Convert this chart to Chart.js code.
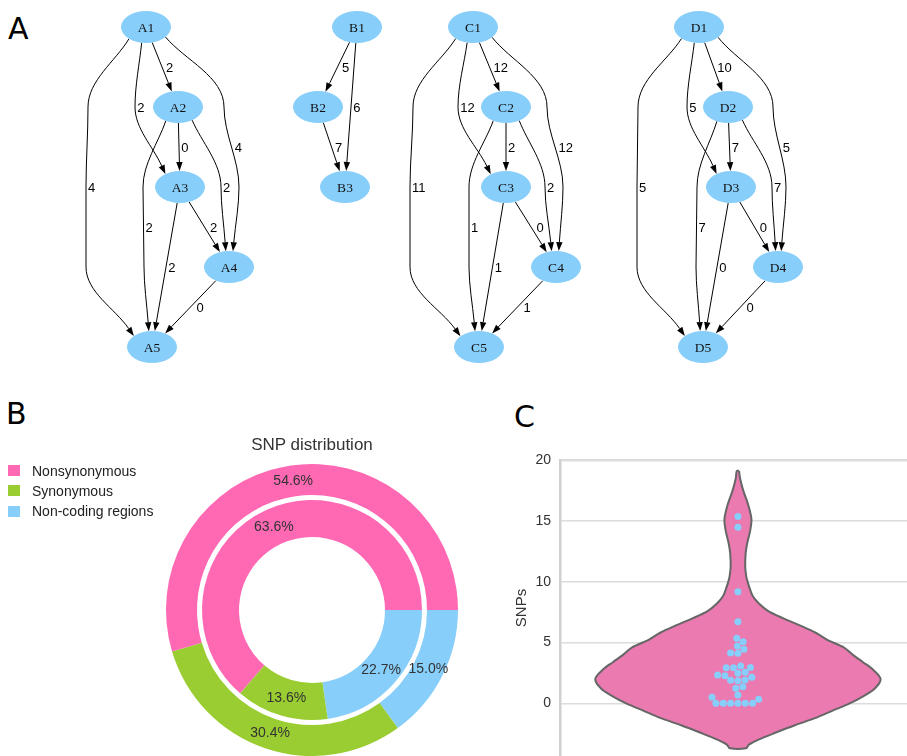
<!DOCTYPE html>
<html>
<head>
<meta charset="utf-8">
<script src="https://cdn.jsdelivr.net/npm/chart.js"></script>
<style>
  body { margin: 0; background: #fff; width: 907px; height: 756px; position: relative; overflow: hidden; font-family: 'Liberation Sans', Arial, sans-serif; }
  canvas { position: absolute; }
  .panel { position: absolute; font-family: 'DejaVu Sans', sans-serif; font-size: 30px; line-height: 30px; color: #000; }
  #snpTitle { position: absolute; left: 162px; width: 300px; top: 435.6px; text-align: center; font-size: 17px; line-height: 17px; color: #333; }
  .key { position: absolute; width: 12px; height: 11px; left: 8px; }
  .keyText { position: absolute; left: 32px; font-size: 14px; line-height: 14px; color: #222; white-space: nowrap; }
</style>
</head>
<body>
<div class="panel" style="left:8px; top:13.5px">A</div>
<div class="panel" style="left:6px; top:398.5px">B</div>
<div class="panel" style="left:514px; top:401.5px">C</div>

<canvas id="graphs" width="907" height="380" style="left:0; top:0"></canvas>
<canvas id="snpRings" width="480" height="366" style="left:0; top:390px"></canvas>
<div id="snpTitle">SNP distribution</div>
<div id="snpLegend"></div>
<canvas id="violin" width="427" height="366" style="left:480px; top:390px"></canvas>

<script>
// ---- panel A: SNP graphs ----
const nodeNames = ['A1', 'A2', 'A3', 'A4', 'A5', 'B1', 'B2', 'B3', 'C1', 'C2', 'C3', 'C4', 'C5', 'D1', 'D2', 'D3', 'D4', 'D5'];
const nodeX     = [146, 178, 180, 229, 152, 357, 318, 345, 473, 506, 506, 556, 479, 699, 728, 731, 778, 703];
const nodeRank  = [1, 2, 3, 4, 5, 1, 2, 3, 1, 2, 3, 4, 5, 1, 2, 3, 4, 5];

const edgeFrom = ['A1', 'A1', 'A1', 'A1', 'A2', 'A2', 'A2', 'A3', 'A3', 'A4',
                  'B1', 'B1', 'B2',
                  'C1', 'C1', 'C1', 'C1', 'C2', 'C2', 'C2', 'C3', 'C3', 'C4',
                  'D1', 'D1', 'D1', 'D1', 'D2', 'D2', 'D2', 'D3', 'D3', 'D4'];
const edgeTo   = ['A2', 'A3', 'A4', 'A5', 'A3', 'A4', 'A5', 'A4', 'A5', 'A5',
                  'B2', 'B3', 'B3',
                  'C2', 'C3', 'C4', 'C5', 'C3', 'C4', 'C5', 'C4', 'C5', 'C5',
                  'D2', 'D3', 'D4', 'D5', 'D3', 'D4', 'D5', 'D4', 'D5', 'D5'];
const edgeSNPs = [2, 2, 4, 4, 0, 2, 2, 2, 2, 0,
                  5, 6, 7,
                  12, 12, 12, 11, 2, 2, 1, 0, 1, 1,
                  10, 5, 5, 5, 7, 7, 7, 0, 0, 0];
// x of the edge at every rank it crosses ([] = straight edge)
const edgeBends = [[], [135], [224, 239], [88, 86, 86], [], [221], [143, 144], [], [], [],
                   [], [], [],
                   [], [458], [547, 563], [413, 410, 410], [], [545], [469, 469], [], [], [],
                   [], [687], [773, 786], [638, 637, 637], [], [772], [697, 696], [], [], []];

// ---- panel B: SNP distribution ----
const snpClasses = ['Nonsynonymous', 'Synonymous', 'Non-coding regions'];
const classColors = ['#ff69b4', '#9acd32', '#87cefa'];
const outerShare = [54.6, 30.4, 15.0];
const innerShare = [63.6, 13.6, 22.7];

// ---- panel C: SNPs per sample ----
const snpTicks = [0, 5, 10, 15, 20];
const violinSNPs    = [19.1, 18.5, 17.5, 16.4, 15.5, 15.0, 14.2, 13.1, 12.3, 11.2, 10.4, 9.9, 9.3, 8.8, 8.2, 7.6, 7.0, 6.4, 5.8, 5.2, 4.6, 4.0, 3.4, 2.8, 2.0, 1.2, 0.6, 0.0, -0.6, -1.2, -1.8, -2.4, -3.0, -3.4, -3.7];
const violinDensity = [0.008, 0.015, 0.037, 0.070, 0.090, 0.095, 0.086, 0.064, 0.054, 0.051, 0.059, 0.070, 0.087, 0.105, 0.147, 0.21, 0.315, 0.434, 0.545, 0.629, 0.741, 0.804, 0.874, 0.944, 1.0, 0.958, 0.881, 0.783, 0.664, 0.545, 0.399, 0.266, 0.140, 0.077, 0.056];
const sampleSNPs = [0, 0, 0, 0, 0, 0, 0.33, 0.49, 0.68, 1.23, 1.37, 1.86, 1.9, 1.92, 2.14, 2.27, 2.33, 2.47, 2.55,
                    2.93, 2.93, 2.95, 3.07, 4.11, 4.13, 4.44, 4.71, 5.07, 5.35, 6.71, 9.18, 14.47, 15.35];

const RX = 25, RY = 16, ARROW_LEN = 9, ARROW_HALF = 3.2;
const noOverlay = {legend: {display: false}, tooltip: {enabled: false}};

function nodeShape() {
  const c = document.createElement('canvas');
  c.width = RX * 2;
  c.height = RY * 2;
  const g = c.getContext('2d');
  g.fillStyle = '#87cefa';
  g.beginPath();
  g.ellipse(RX, RY, RX, RY, 0, 0, Math.PI * 2);
  g.fill();
  return c;
}

// point on the node ellipse in direction (dx, dy)
function rim(c, dx, dy) {
  const t = 1 / Math.hypot(dx / RX, dy / RY);
  return {x: c.x + dx * t, y: c.y + dy * t};
}

function unit(p, q) {
  const d = Math.hypot(q.x - p.x, q.y - p.y);
  return {x: (q.x - p.x) / d, y: (q.y - p.y) / d};
}

function bez(s, t) {
  const u = 1 - t;
  const a = u * u * u, b = 3 * u * u * t, c = 3 * u * t * t, d = t * t * t;
  return {x: a * s[0].x + b * s[1].x + c * s[2].x + d * s[3].x,
          y: a * s[0].y + b * s[1].y + c * s[2].y + d * s[3].y};
}

function edgeGeometry(k, xs, ys) {
  const a = nodeNames.indexOf(edgeFrom[k]);
  const b = nodeNames.indexOf(edgeTo[k]);
  const pa = {x: xs.getPixelForValue(nodeX[a]), y: ys.getPixelForValue(nodeRank[a])};
  const pb = {x: xs.getPixelForValue(nodeX[b]), y: ys.getPixelForValue(nodeRank[b])};
  const vias = edgeBends[k].map((bx, j) => ({x: xs.getPixelForValue(bx), y: ys.getPixelForValue(nodeRank[a] + j + 1)}));
  const s = vias.length ? 0.5 : 1;
  const first = vias[0] || pb;
  const last = vias[vias.length - 1] || pa;
  const start = rim(pa, first.x - pa.x, (first.y - pa.y) * s);
  const tip = rim(pb, last.x - pb.x, (last.y - pb.y) * s);
  const dir = unit(vias.length ? last : start, tip);
  const base = {x: tip.x - dir.x * ARROW_LEN, y: tip.y - dir.y * ARROW_LEN};
  const pts = [start, ...vias, base];
  const tans = pts.map((p, i) => i === 0 ? unit(pts[0], pts[1]) : (i === pts.length - 1 ? dir : {x: 0, y: 1}));
  const segs = [];
  for (let i = 0; i < pts.length - 1; i++) {
    const p = pts[i], q = pts[i + 1];
    const L = Math.hypot(q.x - p.x, q.y - p.y) / 3;
    segs.push([p,
      {x: p.x + tans[i].x * L, y: p.y + tans[i].y * L},
      {x: q.x - tans[i + 1].x * L, y: q.y - tans[i + 1].y * L},
      q]);
  }
  return {segs, tip, dir, base, mid: (pa.y + pb.y) / 2};
}

const graphPlugin = {
  id: 'graph',
  beforeDatasetsDraw(chart) {
    const {ctx} = chart;
    const xs = chart.scales.x, ys = chart.scales.y;
    ctx.save();
    ctx.strokeStyle = '#000';
    ctx.fillStyle = '#000';
    ctx.lineWidth = 1;
    ctx.font = '13px "Liberation Sans", Arial, sans-serif';
    ctx.textAlign = 'left';
    ctx.textBaseline = 'middle';
    edgeFrom.forEach((_, k) => {
      const e = edgeGeometry(k, xs, ys);
      ctx.beginPath();
      ctx.moveTo(e.segs[0][0].x, e.segs[0][0].y);
      e.segs.forEach(sg => ctx.bezierCurveTo(sg[1].x, sg[1].y, sg[2].x, sg[2].y, sg[3].x, sg[3].y));
      ctx.stroke();

      const px = -e.dir.y * ARROW_HALF, py = e.dir.x * ARROW_HALF;
      ctx.beginPath();
      ctx.moveTo(e.tip.x, e.tip.y);
      ctx.lineTo(e.base.x + px, e.base.y + py);
      ctx.lineTo(e.base.x - px, e.base.y - py);
      ctx.closePath();
      ctx.fill();

      // label sits just right of the edge around its mid height
      let lx = -Infinity, near = null;
      e.segs.forEach(sg => {
        for (let t = 0; t <= 1.0001; t += 0.04) {
          const p = bez(sg, t);
          if (Math.abs(p.y - e.mid) <= 6) lx = Math.max(lx, p.x);
          if (!near || Math.abs(p.y - e.mid) < Math.abs(near.y - e.mid)) near = p;
        }
      });
      if (lx === -Infinity) lx = near.x;
      ctx.fillText(String(edgeSNPs[k]), lx + 2, e.mid + 1);
    });
    ctx.restore();
  },
  afterDatasetsDraw(chart) {
    const {ctx} = chart;
    const xs = chart.scales.x, ys = chart.scales.y;
    ctx.save();
    ctx.fillStyle = '#111';
    ctx.font = '13.5px "Liberation Serif", "Times New Roman", serif';
    ctx.textAlign = 'center';
    ctx.textBaseline = 'middle';
    nodeNames.forEach((name, i) => {
      ctx.fillText(name, xs.getPixelForValue(nodeX[i]), ys.getPixelForValue(nodeRank[i]) + 1);
    });
    ctx.restore();
  }
};

new Chart(document.getElementById('graphs'), {
  type: 'scatter',
  data: {
    datasets: [{
      data: nodeX.map((x, i) => ({x, y: nodeRank[i]})),
      pointStyle: nodeShape(),
      pointRadius: RY,
      clip: false
    }]
  },
  options: {
    responsive: false,
    animation: false,
    events: [],
    layout: {padding: 0, autoPadding: false},
    scales: {
      x: {display: false, min: 0, max: 907},
      y: {display: false, min: 0.6625, max: 5.4125, reverse: true}
    },
    plugins: noOverlay
  },
  plugins: [graphPlugin]
});

// ---- panel B ----
const rev = arr => arr.slice().reverse();

const legendBox = document.getElementById('snpLegend');
snpClasses.forEach((name, i) => {
  const key = document.createElement('div');
  key.className = 'key';
  key.style.top = (465 + i * 20.3) + 'px';
  key.style.backgroundColor = classColors[i];
  const text = document.createElement('div');
  text.className = 'keyText';
  text.style.top = (463.6 + i * 20) + 'px';
  text.textContent = name;
  legendBox.append(key, text);
});

const ringLabels = {
  id: 'ringLabels',
  afterDatasetsDraw(chart) {
    const {ctx} = chart;
    ctx.save();
    ctx.font = '14px "Liberation Sans", Arial, sans-serif';
    ctx.fillStyle = '#333';
    ctx.textAlign = 'center';
    ctx.textBaseline = 'middle';
    [0, 2].forEach(di => {
      chart.getDatasetMeta(di).data.forEach((arc, i) => {
        const p = arc.tooltipPosition();
        ctx.fillText(chart.data.datasets[di].data[i].toFixed(1) + '%', p.x, p.y);
      });
    });
    ctx.restore();
  }
};

new Chart(document.getElementById('snpRings'), {
  type: 'doughnut',
  data: {
    labels: rev(snpClasses),
    datasets: [
      {data: rev(outerShare), backgroundColor: rev(classColors), weight: 31, borderWidth: 0, hoverOffset: 0},
      {data: [1], backgroundColor: 'rgba(255,255,255,0)', weight: 5, borderWidth: 0, hoverOffset: 0},
      {data: rev(innerShare), backgroundColor: rev(classColors), weight: 37, borderWidth: 0, hoverOffset: 0}
    ]
  },
  options: {
    responsive: false,
    animation: false,
    events: [],
    rotation: 90,
    cutout: '50%',
    layout: {padding: {left: 166, right: 22, top: 74, bottom: 0}},
    plugins: noOverlay
  },
  plugins: [ringLabels]
});

// ---- panel C ----
const outline = [
  ...violinSNPs.map((v, i) => ({x: violinDensity[i], y: v})),
  ...rev(violinSNPs).map((v, i) => ({x: -rev(violinDensity)[i], y: v})),
  {x: violinDensity[0], y: violinSNPs[0]}
];

const violinChart = new Chart(document.getElementById('violin'), {
  type: 'scatter',
  data: {
    datasets: [
      {data: sampleSNPs.map(v => ({x: 0, y: v})), backgroundColor: '#87cefa', pointRadius: 3.5, borderWidth: 0, order: 0},
      {type: 'line', data: outline, fill: 'shape', backgroundColor: '#ea7ab0', borderColor: '#666',
       borderWidth: 2, pointRadius: 0, tension: 0.3, order: 1}
    ]
  },
  options: {
    responsive: false,
    animation: false,
    events: [],
    layout: {padding: {top: 70, left: 0, right: 0, bottom: 0}, autoPadding: false},
    scales: {
      x: {display: false, min: -1.247, max: 1.185},
      y: {
        min: -4.33,
        max: 20,
        afterBuildTicks: axis => { axis.ticks = snpTicks.map(v => ({value: v})); },
        afterFit: axis => { axis.width = 80; axis.paddingTop = 0; axis.paddingBottom = 0; },
        ticks: {color: '#333', padding: 9, font: {family: 'Liberation Sans', size: 14}},
        grid: {color: '#dcdcdc', drawTicks: false, lineWidth: c => (c.tick && c.tick.value === 20) ? 2.5 : 1.5},
        border: {display: true, color: '#d0d0d0', width: 2.5},
        title: {display: true, text: 'SNPs', color: '#333', font: {family: 'Liberation Sans', size: 15}, padding: {top: 33, bottom: 0}}
      }
    },
    plugins: noOverlay
  }
});

// seaborn-style beeswarm: place each point as close to the midline as it can go
function beeswarm(us, r) {
  const placed = [];
  us.forEach(u => {
    const neighbors = [];
    for (let j = placed.length - 1; j >= 0; j--) {
      if (u - placed[j].u < 2 * r) neighbors.push(placed[j]);
      else break;
    }
    const cands = [0];
    let leftFirst = true;
    neighbors.forEach(n => {
      const dy = u - n.u;
      const dx = Math.sqrt(Math.max(4 * r * r - dy * dy, 0)) * 1.05;
      if (leftFirst) cands.push(n.x - dx, n.x + dx);
      else cands.push(n.x + dx, n.x - dx);
      leftFirst = !leftFirst;
    });
    const sorted = cands.map((x, i) => ({x, i})).sort((p, q) => (Math.abs(p.x) - Math.abs(q.x)) || (p.i - q.i));
    let chosen = sorted[sorted.length - 1].x;
    for (const c of sorted) {
      if (neighbors.every(n => (c.x - n.x) ** 2 + (u - n.u) ** 2 >= 4 * r * r - 1e-6)) { chosen = c.x; break; }
    }
    placed.push({x: chosen, u});
  });
  return placed;
}

const xs = violinChart.scales.x, ys = violinChart.scales.y;
const mid = xs.getPixelForValue(0);
const zeroPx = ys.getPixelForValue(0);
const swarm = beeswarm(sampleSNPs.map(v => zeroPx - ys.getPixelForValue(v)), 3.5);
violinChart.data.datasets[0].data = sampleSNPs.map((v, i) => ({x: xs.getValueForPixel(mid + swarm[i].x), y: v}));
violinChart.update();
</script>
</body>
</html>
